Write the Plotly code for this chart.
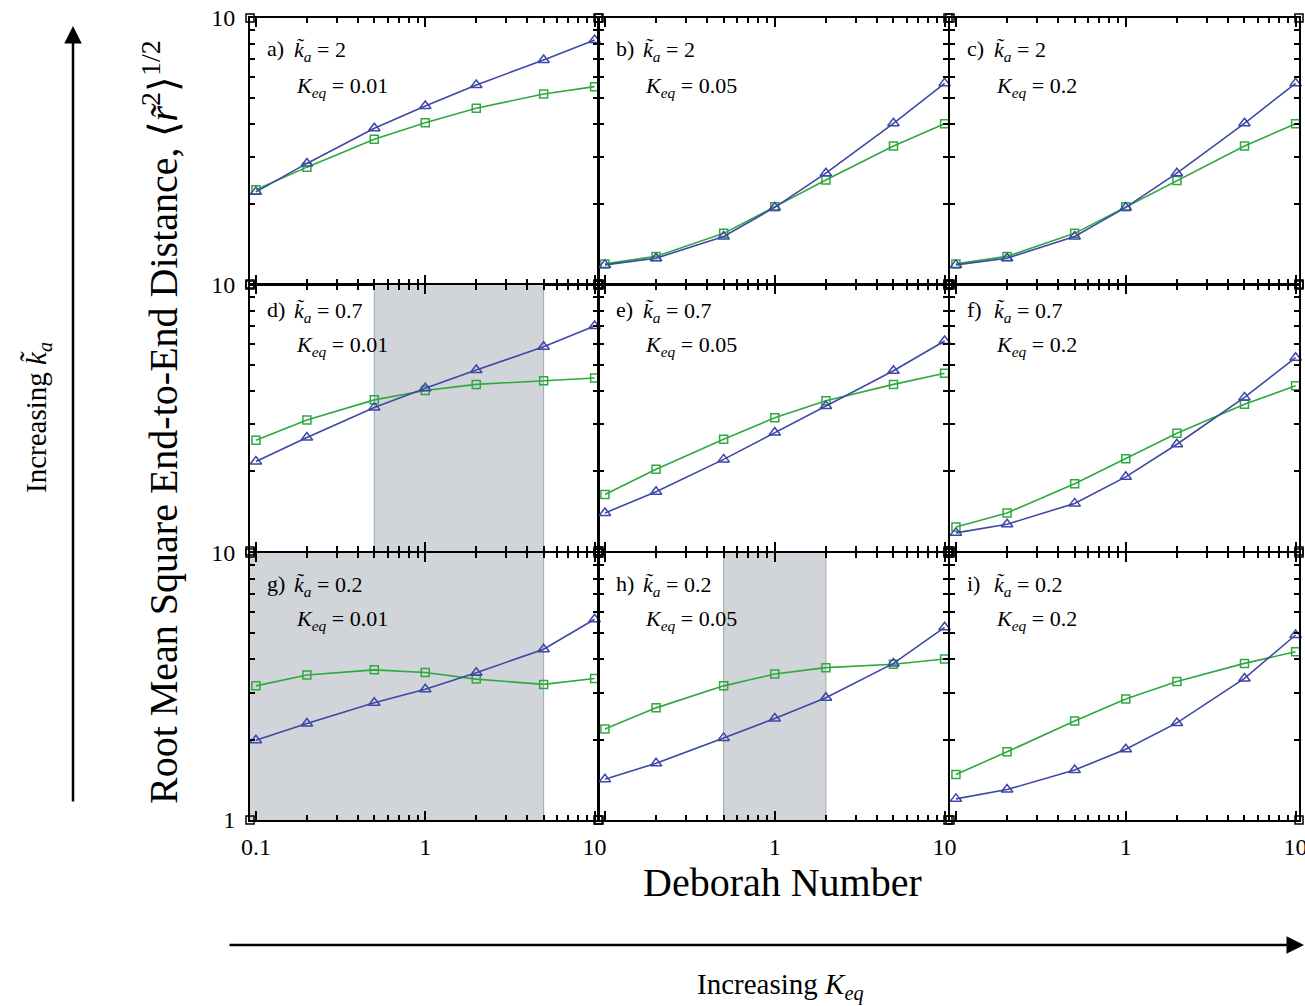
import plotly.graph_objects as go

W, H = 1305, 1006
FONT = "Liberation Serif"

# ---------------- data ----------------
deborah = [0.1, 0.2, 0.5, 1, 2, 5, 10]

panel_letters = ["a)", "b)", "c)", "d)", "e)", "f)", "g)", "h)", "i)"]
ka_labels = ["2", "2", "2", "0.7", "0.7", "0.7", "0.2", "0.2", "0.2"]
keq_labels = ["0.01", "0.05", "0.2", "0.01", "0.05", "0.2", "0.01", "0.05", "0.2"]

blue_a = [2.22, 2.84, 3.85, 4.67, 5.60, 6.95, 8.27]
blue_b = [1.18, 1.25, 1.51, 1.94, 2.61, 4.02, 5.68]
blue_c = [1.18, 1.25, 1.51, 1.94, 2.61, 4.02, 5.68]
blue_d = [2.17, 2.67, 3.46, 4.09, 4.79, 5.86, 7.01]
blue_e = [1.39, 1.67, 2.21, 2.79, 3.51, 4.76, 6.16]
blue_f = [1.17, 1.26, 1.51, 1.90, 2.52, 3.78, 5.33]
blue_g = [1.99, 2.30, 2.75, 3.09, 3.56, 4.36, 5.65]
blue_h = [1.42, 1.63, 2.03, 2.40, 2.87, 3.86, 5.27]
blue_i = [1.20, 1.30, 1.54, 1.84, 2.31, 3.39, 4.93]

green_a = [2.26, 2.75, 3.50, 4.04, 4.58, 5.18, 5.52]
green_b = [1.19, 1.27, 1.55, 1.95, 2.46, 3.30, 4.00]
green_c = [1.19, 1.27, 1.55, 1.95, 2.45, 3.30, 4.00]
green_d = [2.61, 3.11, 3.70, 4.01, 4.23, 4.37, 4.47]
green_e = [1.63, 2.03, 2.63, 3.17, 3.67, 4.23, 4.66]
green_f = [1.23, 1.39, 1.79, 2.22, 2.77, 3.56, 4.18]
green_g = [3.18, 3.49, 3.65, 3.57, 3.37, 3.22, 3.39]
green_h = [2.19, 2.63, 3.18, 3.52, 3.72, 3.83, 4.01]
green_i = [1.48, 1.80, 2.35, 2.84, 3.30, 3.86, 4.27]

# shaded Deborah-number ranges; g starts off-axis (clipped at the left edge)
shade_d = [0.5, 5]
shade_g = [0.05, 5]
shade_h = [0.5, 2]

x_major_ticks = [0.1, 1, 10]
x_minor_ticks = [0.2, 0.3, 0.4, 0.5, 0.6, 0.7, 0.8, 0.9, 2, 3, 4, 5, 6, 7, 8, 9]
y_major_ticks = [1, 10]
y_minor_ticks = [2, 3, 4, 5, 6, 7, 8, 9]

blue_series = [blue_a, blue_b, blue_c, blue_d, blue_e, blue_f, blue_g, blue_h, blue_i]
green_series = [green_a, green_b, green_c, green_d, green_e, green_f, green_g, green_h, green_i]
shades = {3: shade_d, 6: shade_g, 7: shade_h}

BLUE = "#3d47a6"
GREEN = "#2fa83f"

# ---------------- layout geometry (pixels) ----------------
col_px = [(250, 598), (599, 948), (950, 1299)]
row_px = [(18, 284), (285, 551), (553, 820)]

fig = go.Figure()
layout = dict(
    width=W, height=H, autosize=False,
    margin=dict(l=0, r=0, t=0, b=0, pad=0, autoexpand=False),
    paper_bgcolor="white", plot_bgcolor="rgba(0,0,0,0)",
    showlegend=False,
    font=dict(family=FONT, color="black"),
)
annotations = []
shapes = []

for k in range(9):
    r, c = divmod(k, 3)
    sfx = "" if k == 0 else str(k + 1)
    xa, ya = "x" + sfx, "y" + sfx
    x0p, x1p = col_px[c]
    y0p, y1p = row_px[r]

    if k in shades:
        s0, s1 = shades[k]
        fig.add_trace(go.Scatter(
            x=[s0, s1, s1, s0, s0], y=[0.5, 0.5, 20, 20, 0.5],
            fill="toself", fillcolor="#d1d4d8", mode="lines",
            line=dict(color="#a3a6aa", width=1), hoverinfo="skip",
            xaxis=xa, yaxis=ya))

    fig.add_trace(go.Scatter(
        x=deborah, y=green_series[k], mode="lines+markers",
        line=dict(color=GREEN, width=1.6),
        marker=dict(symbol="square-open", size=8, color=GREEN, line=dict(width=1.5)),
        cliponaxis=False, xaxis=xa, yaxis=ya))
    fig.add_trace(go.Scatter(
        x=deborah, y=blue_series[k], mode="lines+markers",
        line=dict(color=BLUE, width=1.6),
        marker=dict(symbol="triangle-up-open", size=10, color=BLUE, line=dict(width=1.5)),
        cliponaxis=False, xaxis=xa, yaxis=ya))

    if r == 2:
        xtext = ["0.1", "1", "10"] if c == 0 else ["", "1", "10"]
    else:
        xtext = ["", "", ""]
    ytext = (["1", "10"] if r == 2 else ["", "10"]) if c == 0 else ["", ""]

    layout["xaxis" + sfx] = dict(
        type="log", range=[-1.035, 1.02], anchor=ya, automargin=False,
        domain=[x0p / W, x1p / W],
        showgrid=False, zeroline=False,
        showline=True, linecolor="black", linewidth=2, mirror="allticks",
        ticks="inside", ticklen=9, tickwidth=1.5, tickcolor="black",
        tickmode="array", tickvals=x_major_ticks, ticktext=xtext,
        ticklabelstandoff=4, ticklabeloverflow="allow",
        tickfont=dict(family=FONT, size=24, color="black"),
        minor=dict(tickmode="array", tickvals=x_minor_ticks, ticks="inside",
                   ticklen=5, tickwidth=1.5, tickcolor="black", showgrid=False),
        fixedrange=True,
    )
    layout["yaxis" + sfx] = dict(
        type="log", range=[0, 1], anchor=xa, automargin=False,
        domain=[1 - y1p / H, 1 - y0p / H],
        showgrid=False, zeroline=False,
        showline=True, linecolor="black", linewidth=2, mirror="allticks",
        ticks="inside", ticklen=8, tickwidth=1.5, tickcolor="black",
        tickmode="array", tickvals=y_major_ticks, ticktext=ytext,
        ticklabelstandoff=8, ticklabeloverflow="allow",
        tickfont=dict(family=FONT, size=24, color="black"),
        minor=dict(tickmode="array", tickvals=y_minor_ticks, ticks="inside",
                   ticklen=5, tickwidth=1.5, tickcolor="black", showgrid=False),
        fixedrange=True,
    )

    # panel texts
    wpx, hpx = x1p - x0p, y1p - y0p
    line1 = [30, 24, 30][r]
    line2 = [66, 58, 64][r]
    annotations.append(dict(
        xref=xa + " domain", yref=ya + " domain", x=15 / wpx, y=1 - line1 / hpx,
        xanchor="left", yanchor="middle", showarrow=False,
        text=panel_letters[k], font=dict(family=FONT, size=22, color="black")))
    annotations.append(dict(
        xref=xa + " domain", yref=ya + " domain", x=42 / wpx, y=1 - (line1 + 3) / hpx,
        xanchor="left", yanchor="middle", showarrow=False,
        text="<i>k\u0303</i><sub><i>a</i></sub> = " + ka_labels[k],
        font=dict(family=FONT, size=22, color="black")))
    annotations.append(dict(
        xref=xa + " domain", yref=ya + " domain", x=44 / wpx, y=1 - (line2 + 3) / hpx,
        xanchor="left", yanchor="middle", showarrow=False,
        text="<i>K</i><sub><i>eq</i></sub> = " + keq_labels[k],
        font=dict(family=FONT, size=22, color="black")))

    # small corner squares
    for cx in (0, 1):
        for cy in (0, 1):
            shapes.append(dict(
                type="rect", xref=xa + " domain", yref=ya + " domain",
                xsizemode="pixel", ysizemode="pixel",
                xanchor=cx, yanchor=cy, x0=-4, x1=4, y0=-4, y1=4,
                line=dict(color="black", width=1.5), fillcolor="rgba(0,0,0,0)"))

# axis titles
annotations.append(dict(
    xref="paper", yref="paper", x=160 / W, y=1 - 422 / H,
    xanchor="center", yanchor="middle", textangle=-90, showarrow=False,
    text="Root Mean Square End-to-End Distance, \u27e8<i>r\u0303</i><sup>2</sup>\u27e9<sup>1/2</sup>",
    font=dict(family=FONT, size=40, color="black")))
annotations.append(dict(
    xref="paper", yref="paper", x=782 / W, y=1 - 882 / H,
    xanchor="center", yanchor="middle", showarrow=False,
    text="Deborah Number", font=dict(family=FONT, size=40, color="black")))

# trend arrows
annotations.append(dict(
    xref="paper", yref="paper", x=73 / W, y=1 - 26 / H,
    ax=0, ay=777, axref="pixel", ayref="pixel",
    text="", showarrow=True, arrowhead=2, arrowsize=1.4, arrowwidth=2.5,
    arrowcolor="black", standoff=0))
annotations.append(dict(
    xref="paper", yref="paper", x=1318 / W, y=1 - 945 / H,
    ax=-1090, ay=0, axref="pixel", ayref="pixel",
    text="", showarrow=True, arrowhead=2, arrowsize=1.4, arrowwidth=2.5,
    arrowcolor="black", standoff=0))
annotations.append(dict(
    xref="paper", yref="paper", x=38 / W, y=1 - 418 / H,
    xanchor="center", yanchor="middle", textangle=-90, showarrow=False,
    text="Increasing <i>k\u0303</i><sub><i>a</i></sub>",
    font=dict(family=FONT, size=29, color="black")))
annotations.append(dict(
    xref="paper", yref="paper", x=780 / W, y=1 - 986 / H,
    xanchor="center", yanchor="middle", showarrow=False,
    text="Increasing <i>K</i><sub><i>eq</i></sub>",
    font=dict(family=FONT, size=29, color="black")))

layout["annotations"] = annotations
layout["shapes"] = shapes
fig.update_layout(**layout)
fig.write_html(
    "out.html",
    config={"displayModeBar": False},
    post_script="document.body.style.margin='0px';document.body.style.padding='0px';",
)
